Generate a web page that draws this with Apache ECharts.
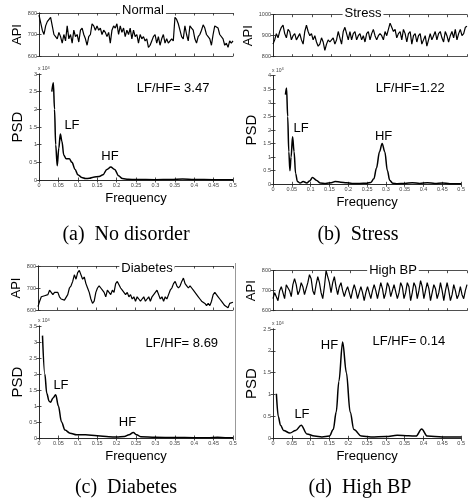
<!DOCTYPE html>
<html><head><meta charset="utf-8">
<script src="https://cdn.jsdelivr.net/npm/echarts@6/dist/echarts.min.js"></script>
<style>html,body{margin:0;padding:0;background:#fff}#c{width:468px;height:500px}</style>
</head><body><div id="c"></div>
<script>
// ---------- DATA ----------
const apiNormal = [790,785,720,700,740,760,765,780,740,700,690,680,710,690,660,700,670,740,680,700,660,720,690,700,665,720,730,700,680,650,690,700,750,740,720,740,720,730,700,720,710,690,710,660,720,740,730,750,700,740,710,730,690,720,700,730,680,720,690,700,660,700,680,690,670,680,640,650,670,690,700,660,690,650,680,700,660,680,660,660,680,670,780,770,750,720,690,680,740,700,670,740,730,720,680,660,690,700,720,745,730,700,690,680,650,700,740,740,730,700,700,680,650,660,640,670,660,670];
const apiStress = [860,880,910,890,920,940,950,910,890,930,920,880,900,910,880,880,910,880,860,920,950,920,900,910,880,900,870,850,860,890,870,830,860,880,870,880,890,860,880,920,890,860,920,940,910,880,920,880,910,920,880,900,910,880,900,870,910,920,880,910,930,900,880,900,910,900,880,920,900,930,960,940,920,930,890,910,920,880,930,910,870,910,920,860,900,910,870,900,910,860,880,900,850,880,910,880,900,920,880,910,920,890,870,920,900,870,900,920,890,930,880,910,930,900,910,940,945];
const apiDiabetes = [615,640,660,655,665,660,670,690,680,670,680,685,680,660,650,655,645,650,670,700,710,730,760,740,770,780,775,740,750,720,700,680,650,630,640,680,700,710,700,690,680,660,690,680,670,690,680,720,730,725,700,690,680,670,680,660,670,650,660,640,660,650,640,650,660,640,650,660,640,660,670,680,690,670,650,660,640,660,650,670,690,700,720,730,710,700,710,730,745,720,710,700,710,700,690,680,670,660,650,640,640,630,620,630,620,640,670,680,670,660,650,640,630,620,620,610,630,635,635];
const apiHighBP = [660,690,680,650,700,720,690,660,730,740,700,670,730,760,730,680,700,740,720,680,680,740,780,760,700,680,730,770,740,690,660,720,800,790,740,690,740,770,720,680,720,740,700,670,700,720,690,660,700,730,700,660,690,720,690,650,690,720,690,660,700,730,700,660,700,740,710,660,690,740,720,670,680,730,720,660,690,740,720,660,690,740,720,650,690,740,720,660,700,750,720,660,700,740,710,650,690,730,710,660,690,740,700,650,700,740,700,650,680,730,700,660,680,720,680,660,700,730];

const freqNormal = [0.033,0.037,0.040,0.043,0.047,0.051,0.055,0.059,0.064,0.070,0.078,0.085,0.093,0.100,0.110,0.120,0.130,0.140,0.155,0.165,0.175,0.185,0.195,0.205,0.215,0.230,0.250,0.300,0.340,0.370,0.400,0.450,0.500];
const psdNormal  = [2.50,2.75,2.00,1.00,0.40,0.90,1.30,1.10,0.70,0.60,0.60,0.50,0.30,0.15,0.07,0.04,0.05,0.08,0.10,0.15,0.30,0.37,0.30,0.12,0.04,0.02,0.015,0.01,0.015,0.03,0.015,0.01,0.01];

const freqStress = [0.033,0.036,0.039,0.042,0.045,0.048,0.052,0.056,0.060,0.065,0.072,0.080,0.090,0.097,0.105,0.115,0.125,0.140,0.155,0.165,0.180,0.195,0.210,0.230,0.250,0.260,0.268,0.275,0.283,0.290,0.297,0.304,0.310,0.318,0.330,0.350,0.370,0.390,0.410,0.430,0.450,0.470,0.500];
const psdStress  = [3.30,3.55,2.50,1.20,0.50,1.00,1.75,1.20,0.40,0.10,0.05,0.10,0.05,0.12,0.25,0.15,0.05,0.03,0.06,0.10,0.08,0.06,0.03,0.03,0.04,0.07,0.20,0.60,1.20,1.50,1.20,0.50,0.15,0.04,0.02,0.03,0.06,0.03,0.06,0.03,0.05,0.02,0.02];

const freqDiabetes = [0.009,0.015,0.020,0.026,0.030,0.036,0.043,0.050,0.058,0.067,0.080,0.097,0.120,0.150,0.180,0.200,0.220,0.232,0.243,0.252,0.262,0.300,0.350,0.400,0.440,0.460,0.480,0.500];
const psdDiabetes  = [3.20,2.00,1.40,1.15,1.12,1.25,1.35,1.00,0.50,0.25,0.15,0.10,0.10,0.07,0.04,0.03,0.05,0.10,0.17,0.10,0.04,0.02,0.015,0.01,0.01,0.02,0.01,0.01];

const freqHighBP = [0.009,0.014,0.020,0.028,0.045,0.060,0.075,0.090,0.110,0.130,0.150,0.160,0.168,0.175,0.185,0.195,0.205,0.215,0.235,0.260,0.300,0.330,0.360,0.380,0.395,0.410,0.450,0.500];
const psdHighBP  = [1.02,0.50,0.30,0.18,0.12,0.18,0.30,0.10,0.05,0.03,0.05,0.20,0.60,1.30,2.20,1.50,0.60,0.20,0.05,0.03,0.04,0.07,0.06,0.05,0.21,0.05,0.03,0.03];

const panelTitles = ['Normal','Stress','Diabetes','High BP'];
const captions = ['(a)  No disorder','(b)  Stress','(c)  Diabetes','(d)  High BP'];
const ratioTexts = ['LF/HF= 3.47','LF/HF=1.22','LF/HF= 8.69','LF/HF= 0.14'];
const apiRanges = [[600,800],[800,1000],[600,800],[600,800]];
const psdMax = [3,4,3.5,2.5];
// annotation anchor points [freq, psd] for LF, HF, ratio text
const lfAnchor = [[0.085,1.54],[0.0746,2.06],[0.0566,1.63],[0.077,0.55]];
const hfAnchor = [[0.183,0.67],[0.294,1.78],[0.228,0.49],[0.150,2.12]];
const ratioAnchor = [[0.3456,2.6],[0.3645,3.53],[0.368,2.95],[0.361,2.21]];

// ---------- LAYOUT ----------
const apiGrids = [
  {left:39, top:13, width:194, height:43},
  {left:273, top:14.7, width:194, height:42},
  {left:38, top:266, width:195, height:44},
  {left:273, top:270.7, width:194, height:40}
];
const psdGrids = [
  {left:39, top:74, width:194, height:106},
  {left:273, top:75.7, width:194, height:108.6},
  {left:39, top:326, width:194, height:112},
  {left:273, top:329, width:194, height:109.3}
];
const titlePos = [[143,10],[363,13.3],[147,268],[393,270]];
const captionPos = [[126,235],[358,235],[126,488],[360,488]];

const apiSeries = [apiNormal, apiStress, apiDiabetes, apiHighBP];
const psdF = [freqNormal, freqStress, freqDiabetes, freqHighBP];
const psdV = [psdNormal, psdStress, psdDiabetes, psdHighBP];

const FONT = 'Liberation Sans, Arial, sans-serif';
const axLine = {lineStyle:{color:'#222', width:0.8}};
const tick = {inside:true, length:2.5, lineStyle:{color:'#222', width:0.8}};
const lbl = {fontSize:5.5, color:'#444', fontFamily:FONT, margin:2, formatter:(v)=>String(+v.toFixed(3))};

const grid = [], xAxis = [], yAxis = [], series = [], graphic = [];

for (let p = 0; p < 4; p++) {
  // API grid
  const gA = grid.length; grid.push(Object.assign({containLabel:false}, apiGrids[p]));
  const n = apiSeries[p].length;
  const xi = xAxis.length;
  xAxis.push({gridIndex:gA, type:'value', min:0, max:n-1, interval:(n-1)/10, axisLine:axLine, axisTick:tick, axisLabel:{show:false}, splitLine:{show:false}});
  xAxis.push({gridIndex:gA, type:'value', position:'top', min:0, max:n-1, interval:(n-1)/10, axisLine:axLine, axisTick:tick, axisLabel:{show:false}, splitLine:{show:false}});
  const yi = yAxis.length;
  yAxis.push({gridIndex:gA, type:'value', min:apiRanges[p][0], max:apiRanges[p][1], interval:100, axisLine:{show:true, lineStyle:axLine.lineStyle}, axisTick:{show:true, inside:true, length:2.5, lineStyle:tick.lineStyle}, axisLabel:lbl, splitLine:{show:false},
    name:'API', nameLocation:'middle', nameGap:11, nameTextStyle:{fontSize:13, color:'#000', fontFamily:FONT}});
  yAxis.push({gridIndex:gA, type:'value', position:'right', min:apiRanges[p][0], max:apiRanges[p][1], interval:100, axisLine:{show:true, lineStyle:axLine.lineStyle}, axisTick:{show:true, inside:true, length:2.5, lineStyle:tick.lineStyle}, axisLabel:{show:false}, splitLine:{show:false}});
  series.push({type:'line', xAxisIndex:xi, yAxisIndex:yi, showSymbol:false, symbol:'none', lineStyle:{color:'#000', width:1.2}, data: apiSeries[p].map((v,k)=>[k,v])});

  // PSD grid
  const gP = grid.length; grid.push(Object.assign({containLabel:false}, psdGrids[p]));
  const xj = xAxis.length;
  xAxis.push({gridIndex:gP, type:'value', min:0, max:0.5, interval:0.05, axisLine:axLine, axisTick:tick, axisLabel:lbl, splitLine:{show:false},
    name:'Frequency', nameLocation:'middle', nameGap:12, nameTextStyle:{fontSize:13, color:'#000', fontFamily:FONT}});
  xAxis.push({gridIndex:gP, type:'value', position:'top', min:0, max:0.5, interval:0.05, axisLine:axLine, axisTick:tick, axisLabel:{show:false}, splitLine:{show:false}});
  const yj = yAxis.length;
  yAxis.push({gridIndex:gP, type:'value', min:0, max:psdMax[p], interval:0.5, axisLine:{show:true, lineStyle:axLine.lineStyle}, axisTick:{show:true, inside:true, length:2.5, lineStyle:tick.lineStyle}, axisLabel:lbl, splitLine:{show:false},
    name:'PSD', nameLocation:'middle', nameGap:10, nameTextStyle:{fontSize:15, color:'#000', fontFamily:FONT}});
  yAxis.push({gridIndex:gP, type:'value', position:'right', min:0, max:psdMax[p], interval:0.5, axisLine:{show:true, lineStyle:axLine.lineStyle}, axisTick:{show:true, inside:true, length:2.5, lineStyle:tick.lineStyle}, axisLabel:{show:false}, splitLine:{show:false}});
  const annLabel = (txt) => ({show:true, position:'inside', formatter:txt, color:'#000', fontSize:13, fontFamily:FONT});
  series.push({type:'line', xAxisIndex:xj, yAxisIndex:yj, showSymbol:false, symbol:'none', smooth:0.35, smoothMonotone:'x',
    lineStyle:{color:'#000', width:1.5}, data: psdF[p].map((f,k)=>[f, psdV[p][k]]),
    markPoint:{symbol:'circle', symbolSize:1, itemStyle:{color:'rgba(0,0,0,0)'}, silent:true, data:[
      {coord:lfAnchor[p], label:annLabel('LF')},
      {coord:hfAnchor[p], label:annLabel('HF')},
      {coord:ratioAnchor[p], label:annLabel(ratioTexts[p])}
    ]}});

  // x10^4 exponent label
  const pg = psdGrids[p];
  graphic.push({type:'text', left:pg.left - 1, top:pg.top - 8.5, style:{text:'{a|x 10}{b|4}', rich:{a:{fontSize:5, fill:'#444', fontFamily:FONT}, b:{fontSize:4, fill:'#444', fontFamily:FONT, verticalAlign:'top', padding:[0,0,3,0]}}}});
  // panel title on top border
  graphic.push({type:'text', x:titlePos[p][0], y:titlePos[p][1], z:10, style:{text:panelTitles[p], fontSize:13, fill:'#000', fontFamily:FONT, align:'center', verticalAlign:'middle', backgroundColor:'#fff', padding:[0,2]}});
  // caption
  graphic.push({type:'text', x:captionPos[p][0], y:captionPos[p][1], style:{text:captions[p], fontSize:20, fill:'#000', fontFamily:'Liberation Serif, Times New Roman, serif', align:'center', verticalAlign:'middle'}});
}
// thin frame line at the left of panel (d)
graphic.push({type:'line', shape:{x1:235.5, y1:263, x2:235.5, y2:440}, style:{stroke:'#999', lineWidth:1}});

const chart = echarts.init(document.getElementById('c'), null, {renderer:'canvas'});
chart.setOption({animation:false, backgroundColor:'#fff', grid, xAxis, yAxis, series, graphic});
</script></body></html>
